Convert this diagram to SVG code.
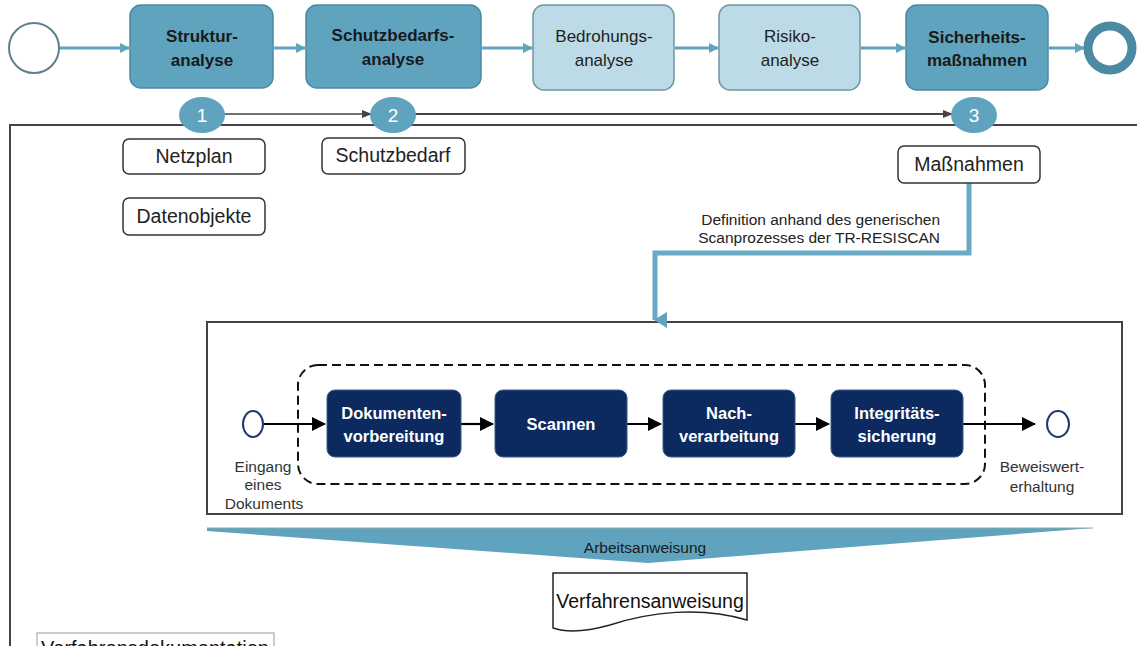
<svg xmlns="http://www.w3.org/2000/svg" width="1142" height="646" viewBox="0 0 1142 646">
<defs>
<style>
text{font-family:"Liberation Sans",Arial,sans-serif;}
.tb{fill:#5fa3bf;stroke:#4b8aa2;stroke-width:1.5;}
.lb{fill:#bcdbe7;stroke:#6e97a6;stroke-width:1.5;}
.t1{font-size:17px;font-weight:bold;fill:#1a1a1a;text-anchor:middle;}
.t2{font-size:17px;fill:#222;text-anchor:middle;}
.tconn{stroke:#5fa3bf;stroke-width:3;fill:none;}
.num{fill:#5fa3bf;}
.numt{font-size:19px;fill:#fff;text-anchor:middle;}
.wb{fill:#fff;stroke:#333;stroke-width:1.5;}
.wt{font-size:19.5px;fill:#222;text-anchor:middle;}
.nb{fill:#0c2a60;stroke:#3a5a8a;stroke-width:1;}
.nt{font-size:16.5px;font-weight:bold;fill:#fff;text-anchor:middle;}
.bl{stroke:#000;stroke-width:2.2;fill:none;}
.lbl{font-size:15.5px;fill:#333;text-anchor:middle;}
</style>
<marker id="ta" markerWidth="10" markerHeight="10" refX="9" refY="5" orient="auto" markerUnits="userSpaceOnUse"><path d="M0,0 L10,5 L0,10 Z" fill="#5fa3bf"/></marker>
<marker id="ga" markerWidth="10" markerHeight="10" refX="9" refY="5" orient="auto" markerUnits="userSpaceOnUse"><path d="M0,1 L10,5 L0,9 Z" fill="#444"/></marker>
<marker id="ba" markerWidth="14" markerHeight="14" refX="13" refY="7" orient="auto" markerUnits="userSpaceOnUse"><path d="M0,0 L14,7 L0,14 Z" fill="#000"/></marker>
<marker id="tb" markerWidth="16" markerHeight="14" refX="8" refY="12" orient="auto" markerUnits="userSpaceOnUse"><path d="M0,0 L16,0 L8,13 Z" fill="#5fa3bf"/></marker>
</defs>

<g id="frame">
<polyline points="10,646 10,125 1137,125" fill="none" stroke="#444" stroke-width="2"/>
<rect x="207" y="322" width="915" height="192" fill="#fff" stroke="#444" stroke-width="2"/>
<rect x="298" y="365" width="687" height="119" rx="20" fill="none" stroke="#111" stroke-width="2" stroke-dasharray="9,5"/>
</g>

<g id="connectors">
<line x1="59" y1="48" x2="129" y2="48" class="tconn" marker-end="url(#ta)"/>
<line x1="274" y1="48" x2="305" y2="48" class="tconn" marker-end="url(#ta)"/>
<line x1="482" y1="48" x2="532" y2="48" class="tconn" marker-end="url(#ta)"/>
<line x1="675" y1="48" x2="718" y2="48" class="tconn" marker-end="url(#ta)"/>
<line x1="861" y1="48" x2="905" y2="48" class="tconn" marker-end="url(#ta)"/>
<line x1="1049" y1="48" x2="1084" y2="48" class="tconn" marker-end="url(#ta)"/>
<line x1="224" y1="114" x2="371" y2="114" stroke="#444" stroke-width="1.5" marker-end="url(#ga)"/>
<line x1="415" y1="114" x2="952" y2="114" stroke="#444" stroke-width="2" marker-end="url(#ga)"/>
<polyline points="969,183 969,253 655,253 655,320" fill="none" stroke="#69aac5" stroke-width="5" marker-end="url(#tb)"/>
<line x1="264" y1="424" x2="325" y2="424" class="bl" marker-end="url(#ba)"/>
<line x1="461" y1="424" x2="493" y2="424" class="bl" marker-end="url(#ba)"/>
<line x1="627" y1="424" x2="661" y2="424" class="bl" marker-end="url(#ba)"/>
<line x1="795" y1="424" x2="829" y2="424" class="bl" marker-end="url(#ba)"/>
<line x1="963" y1="424" x2="1035" y2="424" class="bl" marker-end="url(#ba)"/>
</g>

<g id="start"><circle cx="34" cy="48" r="25" fill="#fff" stroke="#5f7f89" stroke-width="2"/></g>
<g id="strukturanalyse"><rect x="130" y="5" width="143" height="83" rx="11" class="tb"/><text class="t1" x="202" y="42">Struktur-</text><text class="t1" x="202" y="66">analyse</text></g>
<g id="schutzbedarfsanalyse"><rect x="306" y="5" width="175" height="83" rx="11" class="tb"/><text class="t1" x="393" y="41">Schutzbedarfs-</text><text class="t1" x="393" y="65">analyse</text></g>
<g id="bedrohungsanalyse"><rect x="533" y="5" width="141" height="85" rx="11" class="lb"/><text class="t2" x="604" y="42">Bedrohungs-</text><text class="t2" x="604" y="66">analyse</text></g>
<g id="risikoanalyse"><rect x="719" y="5" width="141" height="85" rx="11" class="lb"/><text class="t2" x="790" y="42">Risiko-</text><text class="t2" x="790" y="66">analyse</text></g>
<g id="sicherheitsmassnahmen"><rect x="906" y="5" width="142" height="85" rx="11" class="tb"/><text class="t1" x="977" y="43">Sicherheits-</text><text class="t1" x="977" y="66">maßnahmen</text></g>
<g id="end"><circle cx="1110" cy="48" r="22" fill="#fff" stroke="#4b8aa2" stroke-width="9"/></g>

<g id="n1"><ellipse cx="202" cy="115" rx="23" ry="18" class="num"/><text class="numt" x="202" y="122">1</text></g>
<g id="n2"><ellipse cx="393" cy="115" rx="23" ry="18" class="num"/><text class="numt" x="393" y="122">2</text></g>
<g id="n3"><ellipse cx="974" cy="115" rx="23" ry="18" class="num"/><text class="numt" x="974" y="122">3</text></g>

<g id="netzplan"><rect x="123" y="139" width="142" height="35" rx="6" class="wb"/><text class="wt" x="194" y="163">Netzplan</text></g>
<g id="datenobjekte"><rect x="123" y="198" width="142" height="37" rx="6" class="wb"/><text class="wt" x="194" y="223">Datenobjekte</text></g>
<g id="schutzbedarf"><rect x="322" y="138" width="143" height="36" rx="6" class="wb"/><text class="wt" x="393" y="162">Schutzbedarf</text></g>
<g id="massnahmen"><rect x="898" y="146" width="142" height="37" rx="6" class="wb"/><text class="wt" x="969" y="171">Maßnahmen</text></g>

<g id="deflabel"><text x="940" y="225" font-size="15.5" fill="#222" text-anchor="end">Definition anhand des generischen</text><text x="940" y="243" font-size="15.5" fill="#222" text-anchor="end">Scanprozesses der TR-RESISCAN</text></g>

<g id="eingang"><ellipse cx="253" cy="424" rx="10" ry="13" fill="#fff" stroke="#1f3a6e" stroke-width="2"/><text class="lbl" x="263" y="472">Eingang</text><text class="lbl" x="263" y="490">eines</text><text class="lbl" x="264" y="509">Dokuments</text></g>
<g id="dokvor"><rect x="327" y="390" width="134" height="67" rx="8" class="nb"/><text class="nt" x="394" y="419">Dokumenten-</text><text class="nt" x="394" y="442">vorbereitung</text></g>
<g id="scannen"><rect x="495" y="390" width="132" height="67" rx="8" class="nb"/><text class="nt" x="561" y="430">Scannen</text></g>
<g id="nachverarbeitung"><rect x="663" y="390" width="132" height="67" rx="8" class="nb"/><text class="nt" x="729" y="419">Nach-</text><text class="nt" x="729" y="442">verarbeitung</text></g>
<g id="integritaet"><rect x="831" y="390" width="132" height="67" rx="8" class="nb"/><text class="nt" x="897" y="419">Integritäts-</text><text class="nt" x="897" y="442">sicherung</text></g>
<g id="beweiswert"><ellipse cx="1058" cy="424" rx="11" ry="13" fill="#fff" stroke="#1f3a6e" stroke-width="2"/><text class="lbl" x="1042" y="472">Beweiswert-</text><text class="lbl" x="1042" y="492">erhaltung</text></g>

<g id="arbeitsanweisung"><polygon points="207,528 1093,528 648,563 207,531" fill="#5fa3bf"/><line x1="207" y1="528" x2="1093" y2="528" stroke="#8aa" stroke-width="1"/><text x="645" y="553" font-size="15.5" fill="#1a1a1a" text-anchor="middle">Arbeitsanweisung</text></g>

<g id="verfahrensanweisung"><path d="M553,573 L747,573 L747,620 C700,606 650,612 610,625 C585,632 565,632 553,628 Z" fill="#fff" stroke="#222" stroke-width="1.5"/><text x="650" y="608" font-size="19.5" fill="#111" text-anchor="middle">Verfahrensanweisung</text></g>

<g id="verfahrensdokumentation"><rect x="37" y="633" width="237" height="20" fill="#fff" stroke="#999" stroke-width="1"/><text x="155" y="655" font-size="20" fill="#111" text-anchor="middle">Verfahrensdokumentation</text></g>
</svg>
